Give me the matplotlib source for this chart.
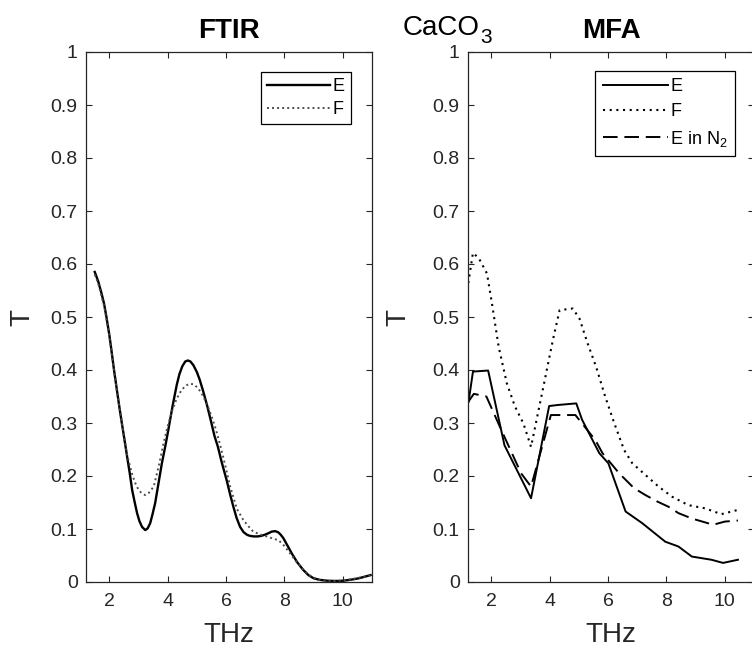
import numpy as np
import matplotlib
matplotlib.use('Agg')
import matplotlib.pyplot as plt

plt.rcParams['font.family'] = ['Liberation Sans', 'DejaVu Sans']
plt.rcParams['mathtext.fontset'] = 'custom'
plt.rcParams['mathtext.rm'] = 'Liberation Sans'

# FTIR panel
ftir_E_x = [1.50, 1.62, 1.73, 1.82, 1.90, 2.00, 2.07, 2.16, 2.21, 2.33, 2.43, 2.52, 2.61,
            2.70, 2.78, 2.87, 2.95, 3.03, 3.12, 3.23, 3.31, 3.40, 3.48, 3.57, 3.68, 3.80,
            3.92, 4.03, 4.17, 4.31, 4.40, 4.50, 4.60, 4.69, 4.78, 4.88, 5.00,
            5.10, 5.22, 5.35, 5.48, 5.60, 5.72, 5.85, 6.02, 6.14, 6.25, 6.36, 6.48, 6.60,
            6.72, 6.82, 6.95, 7.08, 7.20, 7.32, 7.45, 7.56, 7.68, 7.78, 7.86, 7.96, 8.08,
            8.25, 8.44, 8.64, 8.82, 9.00, 9.21, 9.45, 9.67, 9.90, 10.10, 10.35, 10.55,
            10.75, 10.95]
ftir_E_y = [0.585, 0.567, 0.545, 0.525, 0.500, 0.466, 0.438, 0.400, 0.381, 0.335, 0.299,
            0.268, 0.236, 0.205, 0.174, 0.150, 0.130, 0.115, 0.104, 0.098, 0.101, 0.111,
            0.128, 0.149, 0.185, 0.224, 0.257, 0.290, 0.333, 0.372, 0.392,
            0.407, 0.416, 0.418, 0.416, 0.409, 0.396, 0.381, 0.359, 0.333, 0.304, 0.276,
            0.255, 0.226, 0.192, 0.165, 0.142, 0.121, 0.104, 0.094, 0.089, 0.087, 0.086,
            0.086, 0.087, 0.089, 0.092, 0.095, 0.096, 0.094, 0.090, 0.083, 0.071, 0.054,
            0.037, 0.023, 0.013, 0.007, 0.004, 0.0025, 0.002, 0.002, 0.003, 0.005, 0.007,
            0.010, 0.013]

ftir_F_x = [1.50, 1.62, 1.73, 1.82, 1.90, 2.00, 2.07, 2.16, 2.24, 2.33, 2.43, 2.52, 2.61,
            2.70, 2.80, 2.90, 3.00, 3.10, 3.23, 3.35, 3.52, 3.69, 3.85, 3.98, 4.15,
            4.30, 4.45, 4.60, 4.75, 4.90, 5.05, 5.20, 5.35, 5.50, 5.65, 5.80, 5.98, 6.14,
            6.37, 6.59, 6.80, 6.93, 7.15, 7.39, 7.60, 7.79, 7.95, 8.08, 8.25, 8.44, 8.64,
            8.82, 9.00, 9.21, 9.45, 9.70, 10.00, 10.30, 10.55, 10.75, 10.95]
ftir_F_y = [0.580, 0.563, 0.540, 0.521, 0.497, 0.464, 0.436, 0.400, 0.368, 0.335, 0.300,
            0.268, 0.240, 0.220, 0.200, 0.185, 0.174, 0.168, 0.164, 0.168, 0.180, 0.218,
            0.260, 0.290, 0.323, 0.345, 0.360, 0.370, 0.374, 0.373, 0.365, 0.352,
            0.335, 0.313, 0.288, 0.258, 0.218, 0.180, 0.138, 0.117, 0.103, 0.095, 0.090,
            0.086, 0.082, 0.079, 0.071, 0.062, 0.050, 0.036, 0.024, 0.014, 0.008, 0.004,
            0.002, 0.002, 0.003, 0.005, 0.008, 0.010, 0.013]

# MFA panel
mfa_E_x = [1.22, 1.37, 1.89, 2.45, 3.36, 3.98, 4.28, 4.91, 5.11, 5.70, 6.01, 6.60, 7.17,
           7.96, 8.41, 8.87, 9.54, 9.94, 10.45]
mfa_E_y = [0.340, 0.397, 0.399, 0.258, 0.158, 0.332, 0.334, 0.337, 0.306, 0.243, 0.224,
           0.133, 0.111, 0.076, 0.067, 0.048, 0.042, 0.036, 0.042]

mfa_F_x = [1.21, 1.37, 1.57, 1.85, 2.02, 2.25, 2.53, 2.81, 3.10, 3.36, 3.83, 4.11, 4.34,
           4.79, 5.02, 5.30, 5.59, 5.90, 6.21, 6.55, 6.83, 7.28, 7.73, 8.19, 8.75, 9.32,
           9.88, 10.45]
mfa_F_y = [0.564, 0.621, 0.611, 0.582, 0.526, 0.444, 0.375, 0.331, 0.299, 0.255, 0.381,
           0.457, 0.513, 0.516, 0.497, 0.450, 0.406, 0.350, 0.300, 0.249, 0.224, 0.202,
           0.180, 0.161, 0.145, 0.139, 0.128, 0.136]

mfa_N2_x = [1.21, 1.40, 1.83, 2.34, 3.02, 3.36, 4.04, 4.88, 5.56, 5.81, 6.38, 6.89, 7.28,
            7.68, 8.07, 8.41, 8.86, 9.60, 10.00, 10.45]
mfa_N2_y = [0.340, 0.355, 0.350, 0.287, 0.205, 0.180, 0.315, 0.315, 0.268, 0.243, 0.205,
            0.177, 0.164, 0.152, 0.142, 0.130, 0.120, 0.108, 0.114, 0.116]

yticks = [0, 0.1, 0.2, 0.3, 0.4, 0.5, 0.6, 0.7, 0.8, 0.9, 1]
ytick_labels = ['0', '0.1', '0.2', '0.3', '0.4', '0.5', '0.6', '0.7', '0.8', '0.9', '1']
xticks = [2, 4, 6, 8, 10]

W, H = 752, 647
fig = plt.figure(figsize=(W / 100, H / 100), dpi=100)
ax1 = fig.add_axes([86 / W, (H - 582) / H, 286 / W, 530 / H])
ax2 = fig.add_axes([468 / W, (H - 582) / H, 286 / W, 530 / H])

grey = '0.15'


def style(ax, title, xlab_x, ylab_x):
    ax.set_xlim(1.2, 11)
    ax.set_ylim(0, 1)
    ax.set_xticks(xticks)
    ax.set_yticks(yticks)
    ax.set_yticklabels(ytick_labels)
    ax.tick_params(direction='in', top=True, right=True, length=4, width=0.8,
                   labelsize=14, colors=grey, labelcolor=grey)
    ax.tick_params(axis='x', pad=8)
    ax.tick_params(axis='y', pad=6)
    for s in ax.spines.values():
        s.set_color(grey)
        s.set_linewidth(0.9)
    ax.set_title(title, fontsize=20, fontweight='bold', pad=10)
    ax.set_xlabel('THz', fontsize=20, color=grey)
    ax.set_ylabel('T', fontsize=20, color=grey)
    ax.xaxis.set_label_coords(0.5, xlab_x)
    ax.yaxis.set_label_coords(ylab_x, 0.5)


ax1.plot(ftir_E_x, ftir_E_y, color='k', lw=1.7, label='E')
ax1.plot(ftir_F_x, ftir_F_y, color='0.3', lw=1.4, dashes=(1, 1.6), label='F')
style(ax1, 'FTIR', -0.075, -0.178)
leg1 = ax1.legend(loc='upper right', bbox_to_anchor=(0.927, 0.962), borderaxespad=0,
                  fontsize=13, handlelength=3.5, handletextpad=0.15, labelspacing=0.3,
                  borderpad=0.35, fancybox=False, framealpha=1, edgecolor='k')
leg1.get_frame().set_linewidth(0.9)

ax2.plot(mfa_E_x, mfa_E_y, color='k', lw=1.4, label='E')
ax2.plot(mfa_F_x, mfa_F_y, color='k', lw=1.5, dashes=(1, 2.2), label='F')
ax2.plot(mfa_N2_x, mfa_N2_y, color='k', lw=1.4, dashes=(7.5, 3.5),
         label='E in N$_\\mathregular{2}$')
style(ax2, 'MFA', -0.075, -0.199)
leg2 = ax2.legend(loc='upper right', bbox_to_anchor=(0.934, 0.964), borderaxespad=0,
                  fontsize=13, handlelength=3.6, handletextpad=0.15, labelspacing=0.45,
                  borderpad=0.4, fancybox=False, framealpha=1, edgecolor='k')
leg2.get_frame().set_linewidth(0.9)

# sample name, subscript drawn a bit lower as in the original
fig.text(480 / W, (H - 35) / H, 'CaCO', fontsize=20, ha='right', va='baseline', color='k')
fig.text(480 / W, (H - 43) / H, '3', fontsize=15, ha='left', va='baseline', color='k')

fig.savefig('out.png', dpi=100)
